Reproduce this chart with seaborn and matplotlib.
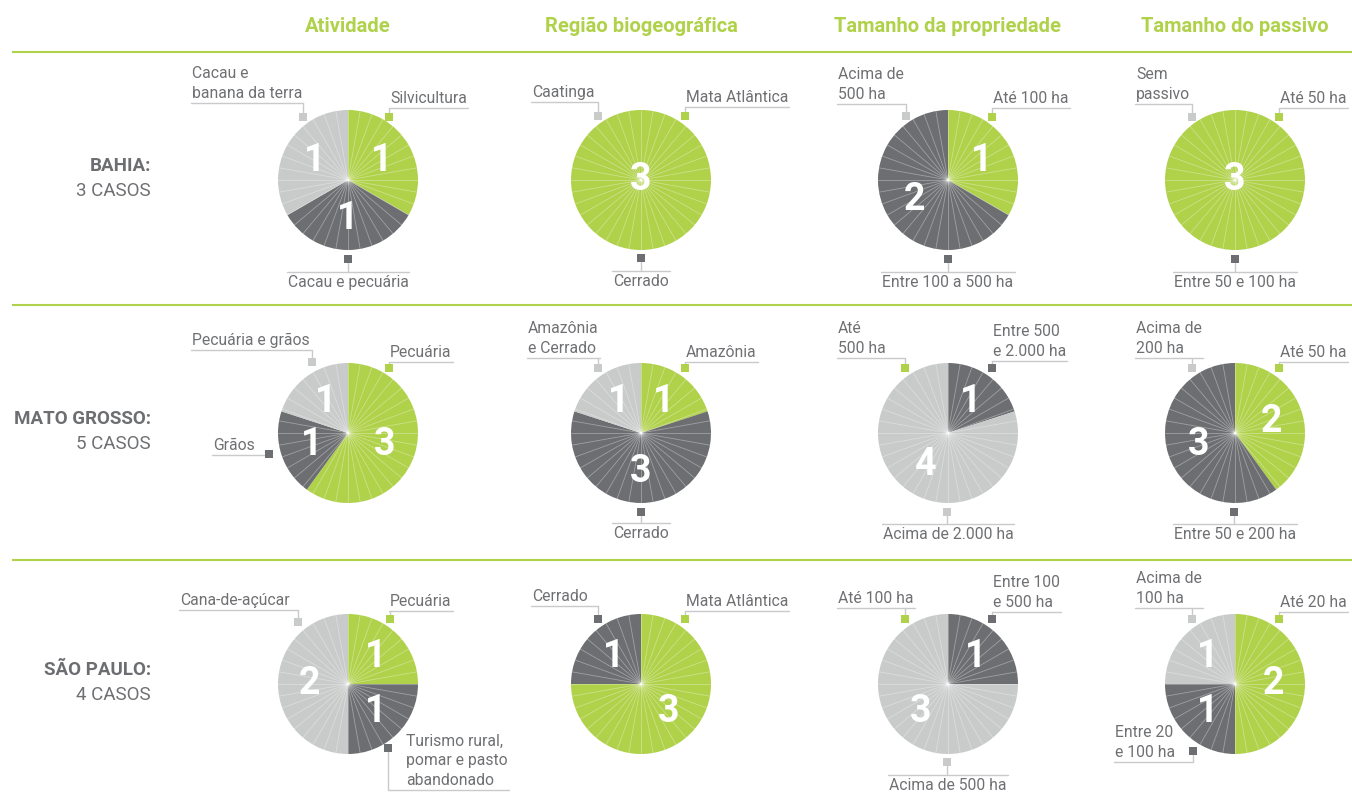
import numpy as np
import matplotlib
matplotlib.use("Agg")
import matplotlib.pyplot as plt
from matplotlib.patches import Rectangle
import seaborn as sns

sns.set_theme(style="white")
plt.rcParams['font.family'] = ['Roboto', 'DejaVu Sans']

W, H = 1352, 792

# ---- data ----
columns = ["Atividade", "Região biogeográfica", "Tamanho da propriedade", "Tamanho do passivo"]
states = ["BAHIA:", "MATO GROSSO:", "SÃO PAULO:"]
cases = ["3 CASOS", "5 CASOS", "4 CASOS"]

# categories per pie, ordered clockwise from the top: green, dark grey, light grey
bahia_cats = [
    ["Silvicultura", "Cacau e pecuária", "Cacau e\nbanana da terra"],
    ["Mata Atlântica", "Cerrado", "Caatinga"],
    ["Até 100 ha", "Entre 100 a 500 ha", "Acima de\n500 ha"],
    ["Até 50 ha", "Entre 50 e 100 ha", "Sem\npassivo"],
]
bahia_counts = [[1, 1, 1], [3, 0, 0], [1, 2, 0], [3, 0, 0]]

mato_grosso_cats = [
    ["Pecuária", "Grãos", "Pecuária e grãos"],
    ["Amazônia", "Cerrado", "Amazônia\ne Cerrado"],
    ["Até\n500 ha", "Entre 500\ne 2.000 ha", "Acima de 2.000 ha"],
    ["Até 50 ha", "Entre 50 e 200 ha", "Acima de\n200 ha"],
]
mato_grosso_counts = [[3, 1, 1], [1, 3, 1], [0, 1, 4], [2, 3, 0]]

sao_paulo_cats = [
    ["Pecuária", "Turismo rural,\npomar e pasto\nabandonado", "Cana-de-açúcar"],
    ["Mata Atlântica", "Cerrado"],
    ["Até 100 ha", "Entre 100\ne 500 ha", "Acima de 500 ha"],
    ["Até 20 ha", "Entre 20\ne 100 ha", "Acima de\n100 ha"],
]
sao_paulo_counts = [[1, 1, 2], [3, 1], [0, 1, 3], [2, 1, 1]]

all_cats = [bahia_cats, mato_grosso_cats, sao_paulo_cats]
all_counts = [bahia_counts, mato_grosso_counts, sao_paulo_counts]

# ---- layout (pixels) ----
col_x = [348, 641, 948, 1235]
row_y = [180, 433, 684]
R = 70
GREEN = "#b0d14a"
DARK = "#6d6e71"
LIGHT = "#c8cbca"
TEXT = "#6f7073"
LINE = "#c9cacb"
slice_colors = [GREEN, DARK, LIGHT]

# (marker dx, marker dy, line dy, text dx or None for centred-below)
label_pos = [
    [
        [(41, -63, -72, 42), (0, 79, 92, None), (-45, -63, -77, -156)],
        [(44, -64, -73, 45), (0, 78, 91, None), (-43, -64, -78, -109)],
        [(44, -63, -72, 45), (0, 79, 92, None), (-42, -64, -76, -110)],
        [(44, -63, -72, 45), (0, 79, 92, None), (-43, -63, -76, -99)],
    ],
    [
        [(41, -65, -71, 42), (-79, 21, 22, -135), (-36, -71, -83, -156)],
        [(44, -65, -71, 45), (0, 79, 90, None), (-43, -65, -75, -113)],
        [(-43, -65, -75, -110), (44, -65, -72, 45), (-1, 79, 91, None)],
        [(44, -65, -71, 45), (-1, 79, 91, None), (-43, -65, -75, -99)],
    ],
    [
        [(42, -65, -73, 42), (40, 64, 106, 58), (-50, -62, -74, -168)],
        [(44, -65, -73, 45), (-43, -65, -78, -109)],
        [(-43, -65, -76, -110), (44, -65, -72, 45), (-1, 78, 91, None)],
        [(44, -65, -72, 45), (-42, 67, 78, -120), (-43, -65, -76, -99)],
    ],
]

fig = plt.figure(figsize=(W / 100, H / 100), dpi=100)
bg = fig.add_axes([0, 0, 1, 1])
bg.set_xlim(0, W)
bg.set_ylim(H, 0)
bg.axis("off")

# column titles and separators
for cx, title in zip(col_x, columns):
    bg.text(cx, 26, title, ha="center", va="center", color=GREEN,
            fontsize=14.5, fontweight="bold")
for y in [52, 305, 560]:
    bg.plot([12, W], [y, y], color=GREEN, lw=1.5, solid_capstyle="butt")

# state labels
for cy, st, cs in zip(row_y, states, cases):
    bg.text(151, cy - 14, st, ha="right", va="center", color=DARK,
            fontsize=13.5, fontweight="bold")
    bg.text(151, cy + 11, cs, ha="right", va="center", color=TEXT, fontsize=13.5)

pending = []
for i, cy in enumerate(row_y):
    for j, cx in enumerate(col_x):
        counts = all_counts[i][j]
        cats = all_cats[i][j]
        cols = slice_colors[:len(counts)]
        ax = fig.add_axes([(cx - R) / W, 1 - (cy + R) / H, 2 * R / W, 2 * R / H])
        nonzero = sum(1 for c in counts if c > 0)
        total = sum(counts)
        ax.pie(counts, colors=cols, startangle=90, counterclock=False, radius=1,
               autopct=lambda p, t=total: f"{int(round(p * t / 100))}" if p > 0 else "",
               pctdistance=0.55 if nonzero > 1 else 0.0,
               textprops=dict(color="white", fontsize=27, fontweight="bold"),
               wedgeprops=dict(linewidth=0))
        for a in np.deg2rad(np.arange(0, 360, 10)):
            ax.plot([0, np.cos(a)], [0, np.sin(a)], color="white", lw=0.6,
                    alpha=0.35, zorder=2)
        for t in ax.texts:
            t.set_zorder(5)
        ax.set_xlim(-1, 1)
        ax.set_ylim(-1, 1)
        ax.set_aspect("equal")
        ax.axis("off")

        for k, (cat, pos) in enumerate(zip(cats, label_pos[i][j])):
            mdx, mdy, ldy, tdx = pos
            mx, my, ly = cx + mdx, cy + mdy, cy + ldy
            bg.add_patch(Rectangle((mx - 4, my - 4), 8, 8, color=cols[k], lw=0, zorder=4))
            bg.plot([mx, mx], [my, ly], color=LINE, lw=1, zorder=3)
            if tdx is None:
                t = bg.text(cx, ly + 3, cat, ha="center", va="top", color=TEXT,
                            fontsize=11.3, linespacing=1.4)
            else:
                t = bg.text(cx + tdx, ly - 2, cat, ha="left", va="bottom", color=TEXT,
                            fontsize=11.3, linespacing=1.4)
            pending.append((t, mx, ly))

fig.canvas.draw()
renderer = fig.canvas.get_renderer()
for t, mx, ly in pending:
    bb = t.get_window_extent(renderer)
    x0 = min(bb.x0 - 1, mx)
    x1 = max(bb.x1 + 1, mx)
    bg.plot([x0, x1], [ly, ly], color=LINE, lw=1, zorder=3)

fig.savefig("out.png", dpi=100)
